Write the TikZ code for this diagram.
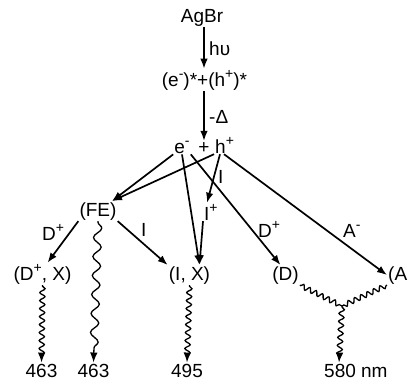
\documentclass[tikz,border=0pt]{standalone}
\usepackage{fontspec}
\setmainfont{Liberation Sans}
\usetikzlibrary{arrows.meta,decorations.pathmorphing}
\newcommand\upchar[1]{\raisebox{0.42em}{\fontsize{14}{14}\selectfont #1}}
\begin{document}
\begin{tikzpicture}[x=1pt,y=-1pt,
  every node/.style={font=\fontsize{19}{22}\selectfont, inner sep=1pt},
  lbl/.style={anchor=base west},
  txt/.style={anchor=base},
  tip/.style={-{Latex[length=10pt,width=7.5pt]}},
  arr/.style={line width=1.7pt, tip},
  wave/.style={line width=1.3pt, decorate, decoration={snake, amplitude=2.6pt, segment length=8pt, pre length=1pt, post length=6pt}},
  bigwave/.style={line width=1.3pt, decorate, decoration={snake, amplitude=4pt, segment length=19pt, pre length=1pt, post length=6pt}},
  sidewave/.style={line width=1.3pt, decorate, decoration={snake, amplitude=2.4pt, segment length=7pt, pre length=1pt, post length=1pt}}
]
\useasboundingbox (0,0) rectangle (409,381);
% nodes
\node[txt] (agbr) at (202,22) {AgBr};
\node[txt] (exc) at (204.5,86) {(e\upchar{-})*+(h\upchar{+})*};
\node[lbl] (hv) at (208,55) {hυ};
\node[lbl] (dl) at (208,123) {-Δ};
\node[txt] (e) at (182,153) {e\upchar{-}};
\node[txt] (pl) at (204,153) {+};
\node[lbl] (h) at (214,153) {h\upchar{+}};
\node[txt] (fe) at (98,216) {(FE)};
\node[lbl] (ip) at (203,220) {I\upchar{+}};
\node[lbl] (li) at (217,183) {I};
\node[lbl] (ld) at (257,237) {D\upchar{+}};
\node[lbl] (la) at (342,237) {A\upchar{-}};
\node[lbl] (ldl) at (41,240) {D\upchar{+}};
\node[lbl] (lil) at (140,236) {I};
\node[txt] (dx) at (42.5,280) {(D\upchar{+}, X)};
\node[txt] (ix) at (189.5,280) {(I, X)};
\node[txt] (dn) at (285.5,280) {(D)};
\node[lbl] (an) at (387,280) {(A};
\node[txt] (n1) at (41.5,377) {463};
\node[txt] (n2) at (93.5,377) {463};
\node[txt] (n3) at (187,377) {495};
\node[lbl] (n4) at (323,377) {580 nm};
\coordinate (J) at (342,306);
% straight arrows
\draw[arr] ([xshift=2pt]agbr.south) -- (exc.north -| pl);
\draw[arr] (exc.south -| pl) -- (pl.north);
\draw[arr] (e.south west) -- ([xshift=14pt]fe.north);
\draw[arr] (h.south west) -- ([xshift=14pt]fe.north);
\draw[arr] (e.south) -- ([xshift=10pt]ix.north);
\draw[arr] (e.south east) -- ([xshift=-5pt]dn.north);
\draw[arr] ([xshift=6pt]h.south west) -- ([xshift=4pt]ip.north west);
\draw[arr] ([xshift=10pt]h.south west) -- (an.west);
\draw[arr] (ip.south west) -- ([xshift=10pt]ix.north);
\draw[arr] (fe.south west) -- ([xshift=5pt]dx.north);
\draw[arr] (fe.south east) -- (ix.north west);
% wavy arrows
\draw[wave, tip] (dx.south) -- (n1.north);
\draw[bigwave, tip] (fe.south) -- (n2.north);
\draw[wave, tip] (ix.south) -- (n3.north);
\draw[sidewave] (dn.south east) -- (J);
\draw[sidewave] (an.south west) -- (J);
\draw[wave, tip] (J) -- ([xshift=16pt]n4.north west);
\end{tikzpicture}
\end{document}
